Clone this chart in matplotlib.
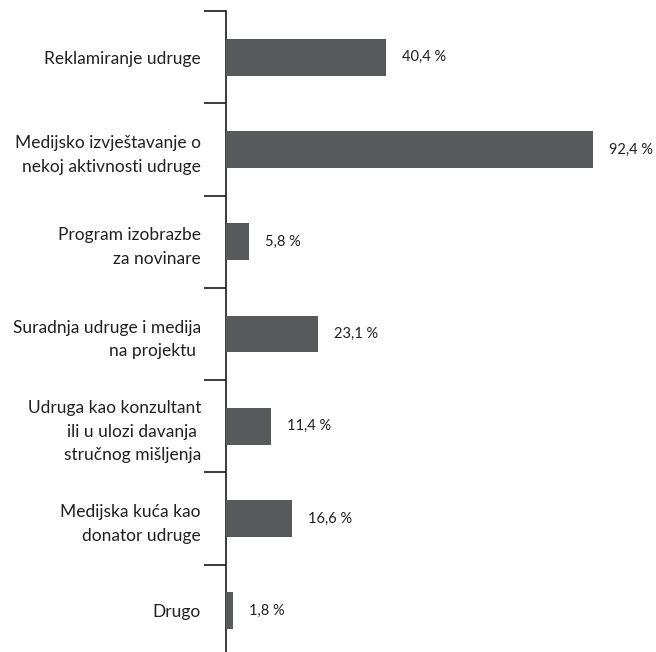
import numpy as np
import matplotlib.pyplot as plt

plt.rcParams['font.family'] = ['Lato', 'DejaVu Sans']

categories = ['Reklamiranje udruge',
              'Medijsko izvještavanje o\nnekoj aktivnosti udruge',
              'Program izobrazbe\nza novinare',
              'Suradnja udruge i medija\nna projektu ',
              'Udruga kao konzultant\nili u ulozi davanja \nstručnog mišljenja',
              'Medijska kuća kao\ndonator udruge',
              'Drugo']
values = [40.4, 92.4, 5.8, 23.1, 11.4, 16.6, 1.8]
value_labels = ['40,4 %', '92,4 %', '5,8 %', '23,1 %', '11,4 %', '16,6 %', '1,8 %']

W, H = 656, 652
fig = plt.figure(figsize=(W / 100, H / 100), dpi=100)
ax = fig.add_axes([226 / W, -5 / H, (W - 226) / W, 646 / H])

y = np.arange(len(categories))
bar_color = '#58595b'
ax.barh(y, values, height=0.4, color=bar_color, zorder=3)

for yi, v, lab in zip(y, values, value_labels):
    ax.text(v + 4, yi, lab, va='center', ha='left', fontsize=10.5, color='#231f20')

ax.set_xlim(0, (W - 226) / 3.97)
ax.set_ylim(len(categories) - 0.5, -0.5)

# boundaries get tick marks, centers get the labels
ax.set_yticks(np.arange(-0.5, len(categories) + 0.5, 1))
ax.set_yticklabels([])
ax.tick_params(axis='y', which='major', length=16, width=1.2, color='#1a1a1a', direction='out')
ax.set_yticks(y, minor=True)
ax.set_yticklabels(categories, minor=True, fontsize=12.5, color='#231f20',
                   ha='right', multialignment='right', linespacing=1.6)
ax.tick_params(axis='y', which='minor', length=0, pad=18)

ax.set_xticks([])
for s in ['top', 'right', 'bottom']:
    ax.spines[s].set_visible(False)
ax.spines['left'].set_linewidth(1.2)
ax.spines['left'].set_color('#1a1a1a')

fig.savefig('out.png', dpi=100)
